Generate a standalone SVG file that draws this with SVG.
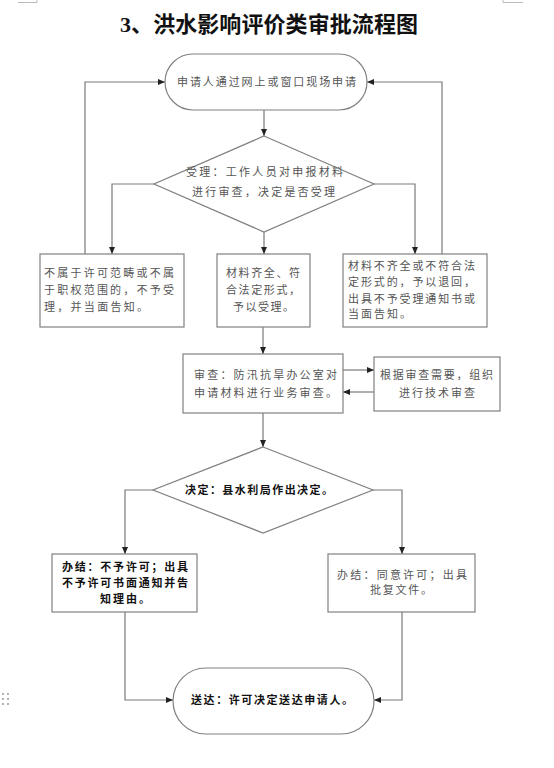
<svg xmlns="http://www.w3.org/2000/svg" width="554" height="768" viewBox="0 0 554 768">
<style>
.shape{fill:#fff;stroke:#808080;stroke-width:1.2}
.conn{fill:none;stroke:#7a7a7a;stroke-width:1.2}
.t{font-family:"Noto Sans CJK SC","Liberation Serif",serif;font-size:11px;fill:#555}
.b{font-family:"Noto Sans CJK SC","Liberation Serif",serif;font-size:11px;fill:#111;font-weight:bold}
.title{font-family:"Liberation Serif","Noto Sans CJK SC",serif;font-size:22px;font-weight:bold;fill:#111}
.mark{stroke:#bbb;stroke-width:1;fill:none}
</style>
<defs>
<marker id="arr" markerWidth="7" markerHeight="6" refX="7" refY="3" orient="auto" markerUnits="userSpaceOnUse">
<path d="M0,0 L7,3 L0,6 z" fill="#222"/>
</marker>
</defs>
<rect width="554" height="768" fill="#fff"/>
<path class="mark" d="M18 2.5 H37 V0"/>
<path class="mark" d="M503 0 V2.5 H523"/>
<g fill="#999">
<circle cx="3" cy="694" r="1"/><circle cx="8" cy="694" r="1"/>
<circle cx="3" cy="699" r="1"/><circle cx="8" cy="699" r="1"/>
<circle cx="3" cy="704" r="1"/><circle cx="8" cy="704" r="1"/>
</g>
<text class="title" x="120" y="32" textLength="298" lengthAdjust="spacing">3、洪水影响评价类审批流程图</text>

<g id="connectors">
<path class="conn" d="M85 254 V82 H165" marker-end="url(#arr)"/>
<path class="conn" d="M442 254 V82 H367" marker-end="url(#arr)"/>
<path class="conn" d="M264 110 V136" marker-end="url(#arr)"/>
<path class="conn" d="M154 184 H112 V254" marker-end="url(#arr)"/>
<path class="conn" d="M264 232 V254" marker-end="url(#arr)"/>
<path class="conn" d="M374 184 H415 V254" marker-end="url(#arr)"/>
<path class="conn" d="M263 327 V354" marker-end="url(#arr)"/>
<path class="conn" d="M343 370 H374" marker-end="url(#arr)"/>
<path class="conn" d="M374 392 H343" marker-end="url(#arr)"/>
<path class="conn" d="M263 413 V447" marker-end="url(#arr)"/>
<path class="conn" d="M153 490 H125 V554" marker-end="url(#arr)"/>
<path class="conn" d="M373 490 H402 V554" marker-end="url(#arr)"/>
<path class="conn" d="M125 612 V700 H173" marker-end="url(#arr)"/>
<path class="conn" d="M402 612 V700 H374" marker-end="url(#arr)"/>
</g>

<g id="start">
<rect class="shape" x="165" y="54" width="202" height="56" rx="28"/>
<text class="t" x="177" y="86" textLength="179" lengthAdjust="spacing">申请人通过网上或窗口现场申请</text>
</g>

<g id="accept">
<path class="shape" d="M264 136 L374 184 L264 232 L154 184 Z"/>
<text class="t" x="186" y="176" textLength="157" lengthAdjust="spacing">受理：工作人员对申报材料</text>
<text class="t" x="192" y="196" textLength="143" lengthAdjust="spacing">进行审查，决定是否受理</text>
</g>

<g id="reject">
<rect class="shape" x="40" y="254" width="144" height="73"/>
<text class="t" x="44" y="277" textLength="130" lengthAdjust="spacing">不属于许可范畴或不属</text>
<text class="t" x="44" y="294" textLength="130" lengthAdjust="spacing">于职权范围的，不予受</text>
<text class="t" x="44" y="311" textLength="104" lengthAdjust="spacing">理，并当面告知。</text>
</g>

<g id="accepted">
<rect class="shape" x="217" y="254" width="93" height="73"/>
<text class="t" x="226" y="277" textLength="74" lengthAdjust="spacing">材料齐全、符</text>
<text class="t" x="226" y="294" textLength="74" lengthAdjust="spacing">合法定形式，</text>
<text class="t" x="233" y="311" textLength="61" lengthAdjust="spacing">予以受理。</text>
</g>

<g id="returned">
<rect class="shape" x="343" y="254" width="144" height="73"/>
<text class="t" x="348" y="270" textLength="127" lengthAdjust="spacing">材料不齐全或不符合法</text>
<text class="t" x="348" y="286" textLength="127" lengthAdjust="spacing">定形式的，予以退回，</text>
<text class="t" x="348" y="303" textLength="127" lengthAdjust="spacing">出具不予受理通知书或</text>
<text class="t" x="348" y="318" textLength="63" lengthAdjust="spacing">当面告知。</text>
</g>

<g id="review">
<rect class="shape" x="183" y="354" width="160" height="59"/>
<text class="t" x="194" y="379" textLength="143" lengthAdjust="spacing">审查：防汛抗旱办公室对</text>
<text class="t" x="194" y="397" textLength="143" lengthAdjust="spacing">申请材料进行业务审查。</text>
</g>

<g id="tech">
<rect class="shape" x="374" y="357" width="126" height="54"/>
<text class="t" x="380" y="379" textLength="113" lengthAdjust="spacing">根据审查需要，组织</text>
<text class="t" x="399" y="397" textLength="76" lengthAdjust="spacing">进行技术审查</text>
</g>

<g id="decision">
<path class="shape" d="M263 447 L373 490 L263 533 L153 490 Z"/>
<text class="b" x="185" y="494" textLength="148" lengthAdjust="spacing">决定：县水利局作出决定。</text>
</g>

<g id="deny">
<rect class="shape" x="52" y="554" width="145" height="58"/>
<text class="b" x="62" y="571" textLength="126" lengthAdjust="spacing">办结：不予许可；出具</text>
<text class="b" x="62" y="587" textLength="126" lengthAdjust="spacing">不予许可书面通知并告</text>
<text class="b" x="100" y="603" textLength="50" lengthAdjust="spacing">知理由。</text>
</g>

<g id="approve">
<rect class="shape" x="328" y="554" width="147" height="58"/>
<text class="t" x="337" y="579" textLength="130" lengthAdjust="spacing">办结：同意许可；出具</text>
<text class="t" x="370" y="594" textLength="62" lengthAdjust="spacing">批复文件。</text>
</g>

<g id="deliver">
<rect class="shape" x="173" y="668" width="201" height="66" rx="33"/>
<text class="b" x="191" y="704" textLength="162" lengthAdjust="spacing">送达：许可决定送达申请人。</text>
</g>
</svg>
